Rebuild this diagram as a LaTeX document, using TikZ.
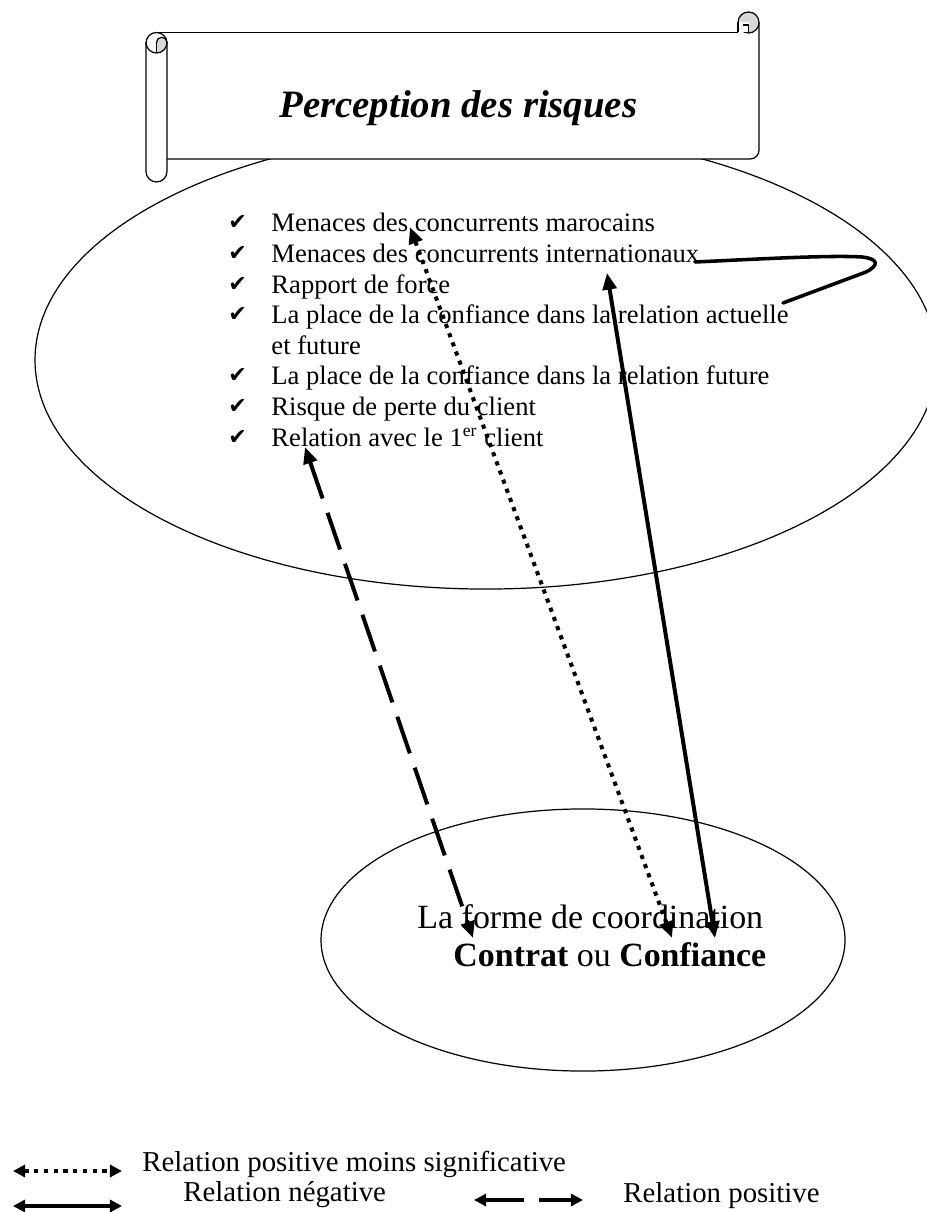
\documentclass[tikz,border=0pt]{standalone}
\usepackage{fontspec}
\setmainfont{Liberation Serif}
\newfontfamily\checkfont{DejaVu Sans}
\usetikzlibrary{arrows.meta,shapes.geometric}

\begin{document}
\begin{tikzpicture}[x=0.451pt,y=-0.451pt,
  outline/.style={line width=0.55pt},
  txt/.style={inner sep=0pt, anchor=base west},
  item/.style={txt, font=\fontsize{12}{13.8}\selectfont},
  tick/.style={inner sep=0pt, anchor=base west, font=\checkfont\fontsize{10}{11}\selectfont},
  legendtext/.style={txt, font=\fontsize{13}{15}\selectfont},
  bubble/.style={ellipse, draw, outline, inner sep=0pt},
  bigtips/.style={{Triangle[length=7.5pt,width=6.2pt]}-{Triangle[length=7.5pt,width=6.2pt]}},
  smalltips/.style={{Triangle[length=5.5pt,width=5.5pt]}-{Triangle[length=5.5pt,width=5.5pt]}},
  rel/.style={line width=1.8pt, line cap=butt},
  legendrel/.style={line width=1.6pt, line cap=butt},
  posrel/.style={dash pattern=on 17.5pt off 6.8pt},
  weakrel/.style={dash pattern=on 1.9pt off 2.5pt},
]
\useasboundingbox (0,0) rectangle (926,1212);

% the large ellipse of risk factors
\node[bubble, minimum width=406.8pt, minimum height=206.6pt] (risk) at (486,360) {};

% scroll banner: paper body
\fill[white] (152,32.5) rectangle (759,159);
\draw[outline] (156.5,32.5) -- (738,32.5);
\draw[outline, rounded corners=4pt] (759,22.5) -- (759,159) -- (160,159);

% scroll banner: right-hand curl
\draw[outline, fill=gray!30] (748.5,22.5) circle[radius=4.74pt];
\fill[white] (738,22.5) rectangle (748.5,32.5);
\draw[outline] (738,22.5) -- (738,32.5);
\draw[outline] (743,25) -- (748.5,25) -- (748.5,32.5);

% scroll banner: left-hand roll
\fill[white, rounded corners=4.74pt] (146,32.5) rectangle (167,182);
\begin{scope}
  \clip (156.5,42.5) rectangle (168,54);
  \fill[gray!30] (156.5,42.5) circle[radius=4.74pt];
\end{scope}
\begin{scope}
  \clip (150,42.5) rectangle (168,36);
  \fill[gray!30] (161.75,42.5) circle[radius=2.37pt];
  \draw[outline] (161.75,42.5) circle[radius=2.37pt];
\end{scope}
\begin{scope}
  \clip (145,42.5) rectangle (168,54);
  \draw[outline] (156.5,42.5) circle[radius=4.74pt];
\end{scope}
\draw[outline] (156.5,42.5) -- (156.5,53);
\draw[outline, rounded corners=4.74pt] (146,32.5) rectangle (167,182);

% banner title
\node[txt, font=\fontsize{17.5}{20}\selectfont\bfseries\itshape] (title) at (279,118) {Perception des risques};

% list of risk factors
\node[item] (i1) at (271,232)   {Menaces des concurrents marocains};
\node[item] (i2) at (271,262.6) {Menaces des concurrents internationaux};
\node[item] (i3) at (271,293.2) {Rapport de force};
\node[item] (i4) at (271,323.8) {La place de la confiance dans la relation actuelle};
\node[item] (i4b) at (271,354.4) {et future};
\node[item] (i5) at (271,385)   {La place de la confiance dans la relation future};
\node[item] (i6) at (271,415.6) {Risque de perte du client};
\node[item] (i7) at (271,446.2) {Relation avec le 1\textsuperscript{er} client};

\node[tick] (c1) at (228,230)   {✔};
\node[tick] (c2) at (228,260.6) {✔};
\node[tick] (c3) at (228,291.2) {✔};
\node[tick] (c4) at (228,321.8) {✔};
\node[tick] (c5) at (228,383)   {✔};
\node[tick] (c6) at (228,413.6) {✔};
\node[tick] (c7) at (228,444.2) {✔};

% the coordination ellipse
\node[bubble, minimum width=236.3pt, minimum height=118.2pt] (form) at (583,940) {};
\node[txt, font=\fontsize{15.3}{17.6}\selectfont] (form1) at (417,928) {La forme de coordination};
\node[txt, font=\fontsize{15.3}{17.6}\selectfont] (form2) at (453,966) {\textbf{Contrat} ou \textbf{Confiance}};

% relations between the factors and the coordination form
\coordinate (posA) at (305,447);
\coordinate (posB) at (473,938);
\coordinate (weakA) at (410,227);
\coordinate (weakB) at (672,938);
\coordinate (negA) at (607,273);
\coordinate (negB) at (715,938);
\coordinate (loopA) at (695,262);
\coordinate (loopB) at (783,303);

\draw[rel, posrel, bigtips] (posA) -- (posB);
\draw[rel, weakrel, bigtips] (weakA) -- (weakB);
\draw[rel, bigtips] (negA) -- (negB);
\draw[line width=1.6pt, line cap=round, line join=round]
  (loopA) .. controls (760,259) and (830,255) .. (862,257)
  .. controls (880,259) and (878,266) .. (866,272) -- (loopB);

% legend
\coordinate (lg1a) at (13,1171);
\coordinate (lg1b) at (122,1171);
\coordinate (lg2a) at (13,1206);
\coordinate (lg2b) at (122,1206);
\coordinate (lg3a) at (474,1200);
\coordinate (lg3b) at (583,1200);

\draw[legendrel, weakrel, smalltips] (lg1a) -- (lg1b);
\draw[legendrel, smalltips] (lg2a) -- (lg2b);
\draw[legendrel, posrel, smalltips] (lg3a) -- (lg3b);

\node[legendtext] (l1) at (142,1171) {Relation positive moins significative};
\node[legendtext] (l2) at (183,1201) {Relation négative};
\node[legendtext] (l3) at (623,1202) {Relation positive};
\end{tikzpicture}
\end{document}
